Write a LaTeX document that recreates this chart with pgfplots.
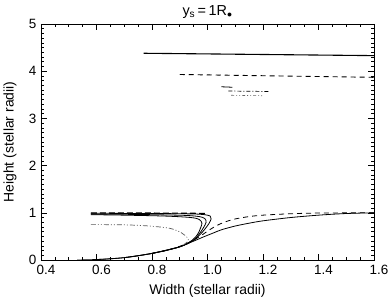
\documentclass[border=0pt]{standalone}
\usepackage{pgfplots}
\pgfplotsset{compat=1.18}
\usepackage{fontspec}
\setmainfont{Liberation Sans}
\begin{document}
\begin{tikzpicture}[x=1bp,y=1bp]
\useasboundingbox (-41,-44) rectangle (347,260);
\begin{axis}[
  at={(0,0)}, anchor=south west,
  scale only axis, width=333bp, height=236bp,
  xmin=0.4, xmax=1.6, ymin=0, ymax=5,
  xtick={0.4,0.6,...,1.6}, ytick={0,1,...,5},
  minor x tick num=3, minor y tick num=9,
  tick align=inside, xtick pos=both, ytick pos=both,
  major tick length=6bp, minor tick length=3bp,
  every tick/.style={black, line width=0.6bp},
  axis line style={line width=0.8bp},
  /pgf/number format/assume math mode=true,
  xticklabel style={/pgf/number format/.cd, fixed, fixed zerofill, precision=1, /tikz/.cd, font=\fontsize{13.5}{15}\selectfont, yshift=-2bp, xshift=5bp},
  yticklabel style={font=\fontsize{13.5}{15}\selectfont, xshift=-1bp},
  xlabel={Width (stellar radii)},
  ylabel={Height (stellar radii)},
  every axis x label/.style={at={(axis description cs:0.5,0)}, anchor=center, yshift=-31bp, font=\fontsize{14}{16}\selectfont},
  every axis y label/.style={at={(axis description cs:0,0.5)}, anchor=center, xshift=-31bp, rotate=90, font=\fontsize{14}{16}\selectfont},
  title={y\textsubscript{s}\,=\,1R\textsubscript{$\bullet$}},
  every axis title/.style={at={(axis description cs:0.5,1)}, anchor=center, yshift=12bp, font=\fontsize{14.5}{16}\selectfont},
  clip=true,
]
% upper features
\addplot[black, line width=1.1bp] coordinates {(0.77,4.38) (1.6,4.33)};
\addplot[black, line width=0.9bp, dash pattern=on 5bp off 4bp] coordinates {(0.9,3.93) (1.6,3.87)};
\addplot[black, line width=0.8bp] coordinates {(1.05,3.67) (1.09,3.66)};
\addplot[black, line width=0.7bp, dash pattern=on 4bp off 2bp on 1bp off 2bp] coordinates {(1.075,3.58) (1.225,3.57)};
\addplot[black!60, line width=0.6bp, dash pattern=on 3bp off 2bp on 1bp off 2bp on 1bp off 2bp] coordinates {(1.085,3.49) (1.2,3.48)};
% lower: outer solid curve to 1.6
\addplot[black, line width=0.8bp, smooth] coordinates {
 (0.53,0.0) (0.6,0.01) (0.65,0.025) (0.7,0.05) (0.75,0.09) (0.8,0.14) (0.85,0.2) (0.9,0.28) (0.95,0.4)
 (0.99,0.5) (1.02,0.57) (1.05,0.64) (1.1,0.72) (1.15,0.78) (1.2,0.83) (1.3,0.9) (1.4,0.95) (1.5,0.985) (1.6,1.0)};
% dashed outer curve
\addplot[black, line width=0.8bp, smooth, dash pattern=on 5bp off 4bp] coordinates {
 (0.8,0.14) (0.85,0.2) (0.9,0.29) (0.94,0.39) (0.97,0.49) (1.0,0.61) (1.03,0.72) (1.06,0.8) (1.1,0.87) (1.15,0.92) (1.2,0.95) (1.3,0.98) (1.4,0.995) (1.6,1.0)};
% loops (solid)
\addplot[black, line width=0.8bp, smooth] coordinates {
 (0.6,0.01) (0.7,0.05) (0.8,0.14) (0.9,0.28) (0.95,0.42) (0.975,0.55) (0.99,0.65) (1.005,0.77) (1.013,0.87) (1.01,0.93) (0.99,0.96) (0.95,0.975) (0.85,0.983) (0.7,0.987) (0.58,0.99)};
\addplot[black, line width=0.8bp, smooth] coordinates {
 (0.7,0.05) (0.8,0.14) (0.9,0.28) (0.95,0.42) (0.97,0.55) (0.985,0.68) (0.995,0.8) (0.99,0.88) (0.97,0.92) (0.92,0.945) (0.8,0.96) (0.7,0.968) (0.58,0.972)};
\addplot[black, line width=0.8bp, smooth] coordinates {
 (0.8,0.14) (0.9,0.28) (0.945,0.42) (0.965,0.55) (0.975,0.68) (0.98,0.78) (0.97,0.86) (0.94,0.9) (0.85,0.93) (0.7,0.95) (0.58,0.96)};
% dashed top
\addplot[black, line width=1.1bp, dash pattern=on 6bp off 3bp] coordinates {
 (0.58,0.995) (0.8,0.995) (0.95,0.99) (1.0,0.985)};
% dash-dot-dot
\addplot[black!65, line width=0.7bp, smooth, dash pattern=on 5bp off 2bp on 1bp off 2bp on 1bp off 2bp] coordinates {
 (0.58,0.75) (0.7,0.745) (0.79,0.72) (0.865,0.67) (0.905,0.58) (0.928,0.47) (0.93,0.4) (0.915,0.33)};
\end{axis}
\end{tikzpicture}
\end{document}
